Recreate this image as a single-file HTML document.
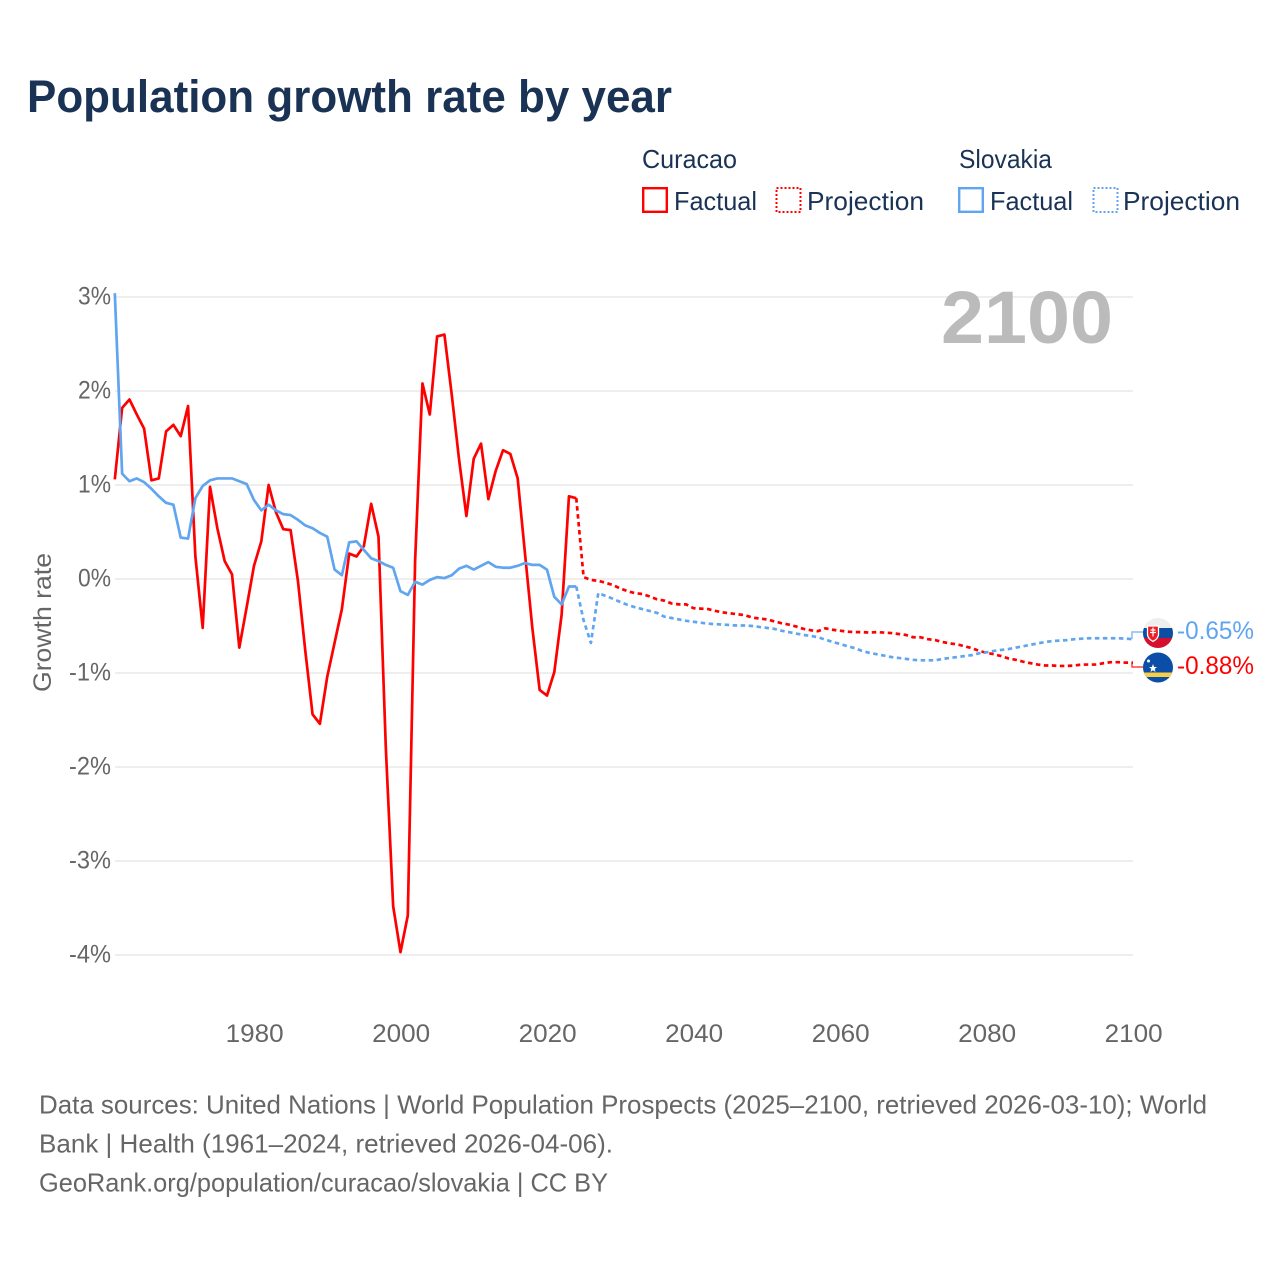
<!DOCTYPE html>
<html lang="en">
<head>
<meta charset="utf-8">
<title>Population growth rate by year</title>
<style>
html,body{margin:0;padding:0;background:#fff;width:1280px;height:1280px;overflow:hidden}
svg{display:block}
text{font-family:"Liberation Sans",sans-serif}
</style>
</head>
<body>
<svg id="chart" xmlns="http://www.w3.org/2000/svg" width="1280" height="1280" viewBox="0 0 1280 1280">
  <defs>
    <clipPath id="clip-sk"><circle cx="1158" cy="633" r="15"/></clipPath>
    <clipPath id="clip-cw"><circle cx="1158" cy="667.5" r="15"/></clipPath>
  </defs>
  <text x="27" y="112" font-size="45" font-weight="700" fill="#1a3355" textLength="645" lengthAdjust="spacingAndGlyphs">Population growth rate by year</text>

  <g fill="#1a3355" font-size="26">
    <text x="642" y="168" textLength="95" lengthAdjust="spacingAndGlyphs">Curacao</text>
    <text x="959" y="168" textLength="93" lengthAdjust="spacingAndGlyphs">Slovakia</text>
    <rect x="643.2" y="188.2" width="23.6" height="23.6" fill="none" stroke="#ff0000" stroke-width="2.4"/>
    <text x="674" y="210" textLength="83" lengthAdjust="spacingAndGlyphs">Factual</text>
    <rect x="776.5" y="188" width="24" height="24" fill="none" stroke="#ff0000" stroke-width="2" stroke-dasharray="2 2"/>
    <text x="807" y="210" textLength="117" lengthAdjust="spacingAndGlyphs">Projection</text>
    <rect x="959.2" y="188.2" width="23.6" height="23.6" fill="none" stroke="#60a5ef" stroke-width="2.4"/>
    <text x="990" y="210" textLength="83" lengthAdjust="spacingAndGlyphs">Factual</text>
    <rect x="1093.5" y="188" width="24" height="24" fill="none" stroke="#60a5ef" stroke-width="2" stroke-dasharray="2 2"/>
    <text x="1123" y="210" textLength="117" lengthAdjust="spacingAndGlyphs">Projection</text>
  </g>

  <g id="grid"></g>
  <g id="yticks"></g>
  <g id="xticks"></g>
  <text transform="translate(51 692) rotate(-90)" font-size="25" fill="#666666" textLength="139" lengthAdjust="spacingAndGlyphs">Growth rate</text>
  <text x="941" y="343" font-size="74" font-weight="700" fill="#bbbbbb" textLength="172" lengthAdjust="spacingAndGlyphs">2100</text>

  <g id="series"></g>

  <g>
    <g clip-path="url(#clip-sk)">
      <rect x="1143" y="618" width="30" height="10" fill="#eeeeee"/>
      <rect x="1143" y="628" width="30" height="10" fill="#0b4ea2"/>
      <rect x="1143" y="638" width="30" height="10" fill="#d5102f"/>
      <path d="M1147.5 626h11v8c0 4-3 6-5.500 7.500c-2.500-1.500-5.500-3.500-5.500-7.500z" fill="#ee1c25" stroke="#ffffff" stroke-width="1.300"/>
      <path d="M1153 627.500v9M1150.500 630h5M1150 632.500h6" stroke="#ffffff" stroke-width="1.200" fill="none"/>
    </g>
  </g>
  <g>
    <g clip-path="url(#clip-cw)">
      <rect x="1143" y="652" width="30" height="31" fill="#0a4ea8"/>
      <rect x="1143" y="672.500" width="30" height="4.500" fill="#f9d044"/>
      <polygon points="1153,664 1154.100,667 1157,667 1154.700,668.900 1155.500,672 1153,670.200 1150.500,672 1151.300,668.900 1149,667 1151.900,667" fill="#ffffff"/>
      <circle cx="1148.500" cy="661" r="1.500" fill="#ffffff"/>
    </g>
  </g>
  <text x="1177" y="639" font-size="25" fill="#60a5ef" textLength="77" lengthAdjust="spacingAndGlyphs">-0.65%</text>
  <text x="1177" y="674" font-size="25" fill="#ff0000" textLength="77" lengthAdjust="spacingAndGlyphs">-0.88%</text>

  <g font-size="26" fill="#666666">
    <text x="39" y="1113.500" textLength="1168" lengthAdjust="spacingAndGlyphs">Data sources: United Nations | World Population Prospects (2025–2100, retrieved 2026-03-10); World</text>
    <text x="39" y="1152.500" textLength="574" lengthAdjust="spacingAndGlyphs">Bank | Health (1961–2024, retrieved 2026-04-06).</text>
    <text x="39" y="1191.500" textLength="569" lengthAdjust="spacingAndGlyphs">GeoRank.org/population/curacao/slovakia | CC BY</text>
  </g>
</svg>
<script>
const yTickValues = [3, 2, 1, 0, -1, -2, -3, -4];
const xTickYears = [1980, 2000, 2020, 2040, 2060, 2080, 2100];
const factualStartYear = 1961;
const projectionStartYear = 2024;
const curacaoFactual = [1.06,1.82,1.91,1.75,1.6,1.05,1.07,1.57,1.64,1.52,1.84,0.24,-0.52,0.98,0.54,0.19,0.05,-0.73,-0.3,0.14,0.4,1.0,0.71,0.53,0.52,-0.02,-0.76,-1.44,-1.54,-1.04,-0.68,-0.32,0.27,0.24,0.35,0.8,0.45,-1.8,-3.48,-3.97,-3.58,0.2,2.08,1.75,2.58,2.6,1.96,1.27,0.67,1.28,1.44,0.85,1.15,1.37,1.33,1.07,0.27,-0.52,-1.18,-1.24,-0.99,-0.38,0.88,0.86];
const curacaoProjection = [0.86,0.02,-0.01,-0.02,-0.04,-0.065,-0.1,-0.13,-0.15,-0.16,-0.185,-0.215,-0.23,-0.26,-0.27,-0.27,-0.31,-0.315,-0.32,-0.34,-0.355,-0.365,-0.375,-0.385,-0.41,-0.42,-0.43,-0.45,-0.47,-0.485,-0.505,-0.53,-0.545,-0.555,-0.525,-0.54,-0.55,-0.56,-0.565,-0.565,-0.57,-0.565,-0.57,-0.575,-0.585,-0.595,-0.62,-0.62,-0.64,-0.65,-0.67,-0.685,-0.695,-0.715,-0.735,-0.765,-0.785,-0.8,-0.82,-0.845,-0.86,-0.88,-0.895,-0.91,-0.92,-0.92,-0.925,-0.925,-0.92,-0.91,-0.91,-0.91,-0.895,-0.885,-0.885,-0.89,-0.89];
const slovakiaFactual = [3.04,1.12,1.04,1.07,1.03,0.96,0.88,0.81,0.79,0.44,0.43,0.86,0.99,1.05,1.07,1.07,1.07,1.04,1.01,0.84,0.73,0.79,0.73,0.69,0.68,0.63,0.57,0.54,0.49,0.45,0.1,0.04,0.39,0.4,0.31,0.22,0.19,0.15,0.12,-0.13,-0.17,-0.03,-0.06,-0.01,0.02,0.01,0.04,0.11,0.14,0.1,0.14,0.18,0.13,0.12,0.12,0.14,0.17,0.15,0.15,0.1,-0.19,-0.27,-0.08,-0.08];
const slovakiaProjection = [-0.08,-0.44,-0.68,-0.15,-0.18,-0.21,-0.245,-0.275,-0.3,-0.32,-0.34,-0.36,-0.4,-0.415,-0.43,-0.445,-0.455,-0.465,-0.475,-0.48,-0.485,-0.49,-0.495,-0.495,-0.5,-0.51,-0.52,-0.53,-0.55,-0.565,-0.58,-0.595,-0.605,-0.62,-0.645,-0.67,-0.69,-0.715,-0.735,-0.765,-0.785,-0.8,-0.815,-0.83,-0.84,-0.85,-0.86,-0.865,-0.865,-0.865,-0.85,-0.84,-0.83,-0.82,-0.81,-0.79,-0.78,-0.765,-0.755,-0.745,-0.73,-0.715,-0.7,-0.685,-0.67,-0.66,-0.655,-0.65,-0.64,-0.635,-0.63,-0.63,-0.63,-0.63,-0.63,-0.635,-0.64];

const SVG_NS = 'http://www.w3.org/2000/svg';
function xScale(year) { return 114.8 + (year - 1961) * 7.325; }
function yScale(value) { return 579 - value * 94; }

function make(tag, attrs, parent) {
  const el = document.createElementNS(SVG_NS, tag);
  for (const k in attrs) el.setAttribute(k, attrs[k]);
  parent.appendChild(el);
  return el;
}

const grid = document.getElementById('grid');
const yticks = document.getElementById('yticks');
const xticks = document.getElementById('xticks');
const seriesGroup = document.getElementById('series');

yTickValues.forEach(function (v) {
  const line = make('line', {x1: 115, x2: 1133, y1: yScale(v), y2: yScale(v), stroke: '#eeeeee', 'stroke-width': 2}, grid);
  
  
  const label = v + '%';
  const t = make('text', {x: 111, y: yScale(v) + 7.5, 'text-anchor': 'end', 'font-size': 25, fill: '#666666', textLength: v < 0 ? 42 : 33, lengthAdjust: 'spacingAndGlyphs'}, yticks);
  t.textContent = label;
  
  
});

xTickYears.forEach(function (yr) {
  const t = make('text', {x: xScale(yr) + 0.7, y: 1042, 'text-anchor': 'middle', 'font-size': 25, fill: '#666666', textLength: 58, lengthAdjust: 'spacingAndGlyphs'}, xticks);
  t.textContent = yr;
  
  
});

function pathFor(values, startYear) {
  return values.map(function (v, i) {
    return (i ? 'L' : 'M') + xScale(startYear + i).toFixed(2) + ' ' + yScale(v).toFixed(2);
  }).join(' ');
}

function drawLine(values, startYear, color, dashed, name) {
  const attrs = {d: pathFor(values, startYear), fill: 'none', stroke: color, 'stroke-width': 2.7, 'stroke-linejoin': 'round'};
  if (dashed) attrs['stroke-dasharray'] = '4.5 3.5';
  const p = make('path', attrs, seriesGroup);
  
  
}

function drawConnector(lastValue, labelY, color, name) {
  const x0 = xScale(2100), y0 = yScale(lastValue);
  const p = make('path', {d: 'M' + (x0 - 1) + ' ' + y0 + ' V' + labelY + ' H1143', fill: 'none', stroke: color, 'stroke-width': 1.5, opacity: 0.75}, seriesGroup);
  
  
}

drawLine(curacaoProjection, projectionStartYear, '#ff0000', true, 'curacao-projection-line');
drawLine(slovakiaProjection, projectionStartYear, '#60a5ef', true, 'slovakia-projection-line');
drawLine(curacaoFactual, factualStartYear, '#ff0000', false, 'curacao-factual-line');
drawLine(slovakiaFactual, factualStartYear, '#60a5ef', false, 'slovakia-factual-line');
drawConnector(curacaoProjection[curacaoProjection.length - 1], 667, '#ff0000', 'curacao-end-connector');
drawConnector(slovakiaProjection[slovakiaProjection.length - 1], 632, '#60a5ef', 'slovakia-end-connector');
</script>
</body>
</html>
